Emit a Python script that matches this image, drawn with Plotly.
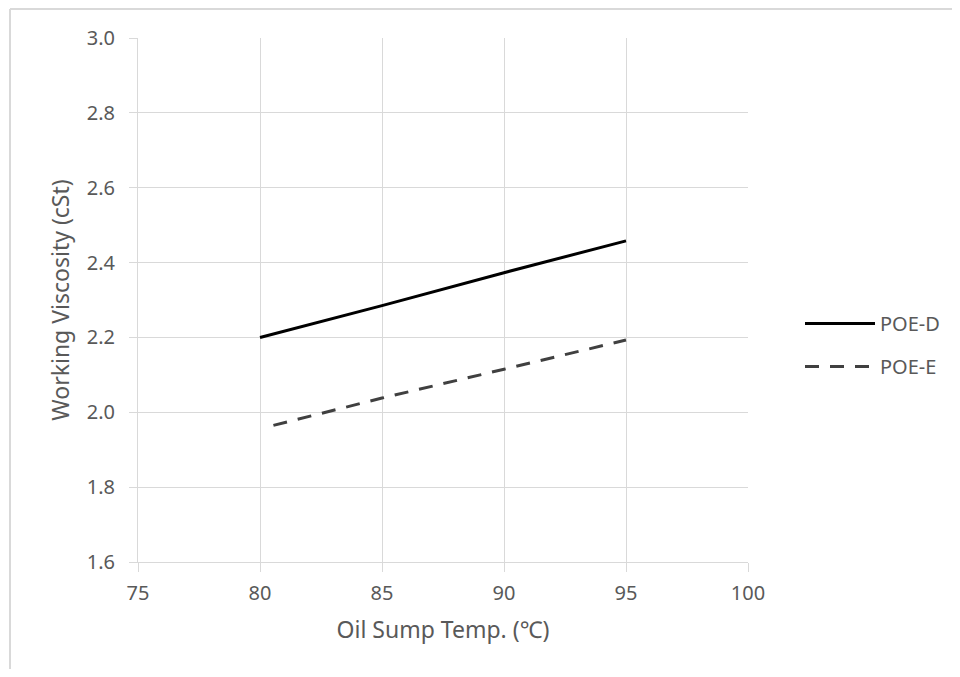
import plotly.graph_objects as go

# Data
temp_d = [80, 85, 90, 95]
visc_d = [2.200, 2.285, 2.373, 2.458]
temp_e = [80.55, 85, 90, 95]
visc_e = [1.965, 2.038, 2.115, 2.193]
series_names = ["POE-D", "POE-E"]
x_ticks = [75, 80, 85, 90, 95, 100]
y_ticks = [1.6, 1.8, 2.0, 2.2, 2.4, 2.6, 2.8, 3.0]

FONT = "Noto Sans"
TXT = "#595959"
GRID = "#d9d9d9"

fig = go.Figure()
fig.add_trace(go.Scatter(x=temp_d, y=visc_d, mode="lines", name=series_names[0],
                         legendgroup="d",
                         line=dict(color="#000000", width=3)))
fig.add_trace(go.Scatter(x=temp_e, y=visc_e, mode="lines", name=series_names[1],
                         legendgroup="e",
                         line=dict(color="#404040", width=3, dash="14px,11px")))

OFF = 8  # page body margin
W, H = 960 - OFF, 677 - 2 * OFF
L, T = 138 - OFF, 38 - OFF
pw, ph = 610, 524
R = W - L - pw
B = H - T - ph

def px_x(sx):  # screen x -> paper x
    return (sx - OFF - L) / pw

def px_y(sy):  # screen y -> paper y
    return (T + ph - (sy - OFF)) / ph

frame = dict(color="#d9d9d9", width=2)

fig.update_layout(
    width=W, height=H,
    margin=dict(l=L, r=R, t=T, b=B, autoexpand=False),
    paper_bgcolor="white", plot_bgcolor="white",
    font=dict(family=FONT, size=20, color=TXT),
    showlegend=True,
    legend=dict(x=px_x(800), xanchor="left", y=px_y(345), yanchor="middle",
                itemwidth=70, tracegroupgap=14,
                font=dict(family=FONT, size=20, color=TXT),
                bgcolor="rgba(0,0,0,0)"),
    xaxis=dict(range=[75, 100], tickvals=x_ticks, ticktext=[str(v) for v in x_ticks],
               showgrid=True, gridcolor=GRID, gridwidth=1,
               showline=True, linecolor=GRID, linewidth=1,
               ticks="outside", ticklen=9, tickcolor=GRID,
               ticklabelstandoff=4,
               zeroline=False,
               title=dict(text="Oil Sump Temp. (℃)", font=dict(family=FONT, size=23, color=TXT), standoff=16),
               tickfont=dict(family=FONT, size=20, color=TXT)),
    yaxis=dict(range=[1.6, 3.0], tickvals=y_ticks, ticktext=[f"{v:.1f}" for v in y_ticks],
               showgrid=True, gridcolor=GRID, gridwidth=1,
               showline=True, linecolor=GRID, linewidth=1,
               ticks="outside", ticklen=8, tickcolor=GRID,
               ticklabelstandoff=10,
               zeroline=False,
               title=dict(text="Working Viscosity (cSt)", font=dict(family=FONT, size=23, color=TXT), standoff=10),
               tickfont=dict(family=FONT, size=20, color=TXT)),
    shapes=[
        dict(type="line", xref="paper", yref="paper",
             x0=px_x(10), x1=px_x(1000), y0=px_y(9), y1=px_y(9), line=frame, layer="below"),
        dict(type="line", xref="paper", yref="paper",
             x0=px_x(10), x1=px_x(10), y0=px_y(9), y1=px_y(720), line=frame, layer="below"),
    ],
)

fig.write_html("out.html")
